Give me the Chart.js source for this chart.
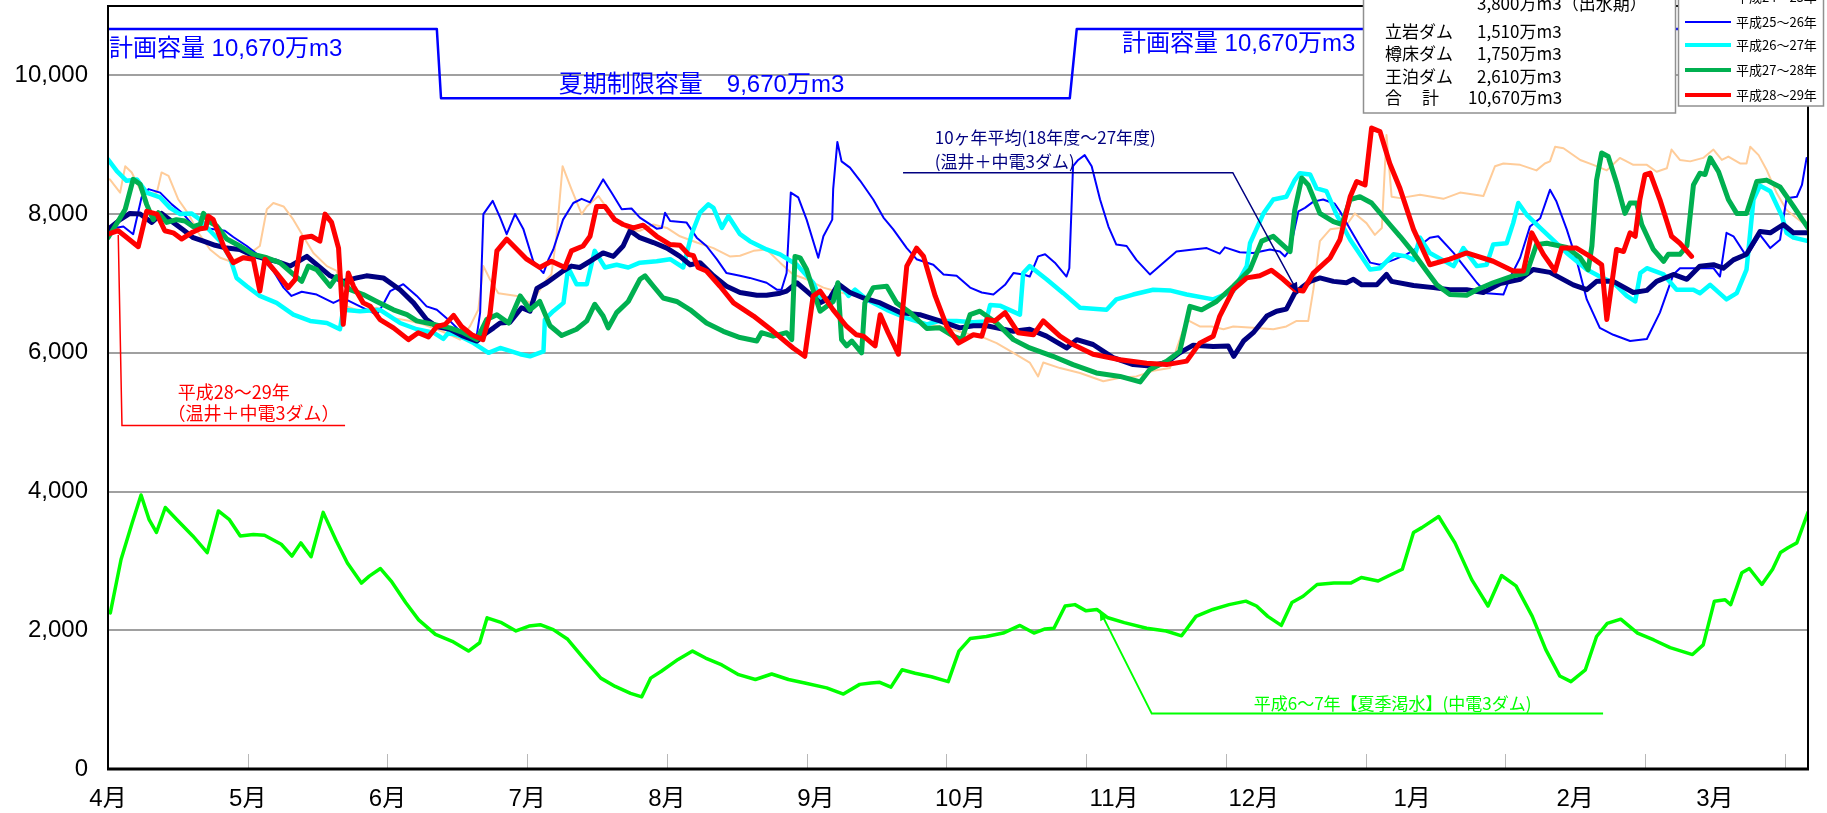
<!DOCTYPE html>
<html>
<head>
<meta charset="utf-8">
<script src="https://cdn.jsdelivr.net/npm/chart.js@4.4.1/dist/chart.umd.min.js"></script>
<style>
  html, body { margin: 0; padding: 0; background: #fff; }
  #wrap { width: 1827px; height: 813px; }
</style>
</head>
<body>
<div id="wrap"><canvas id="damChart" width="1827" height="813"></canvas></div>
<script>
// x = days from 1 April, y = storage (万m3)
const monthDays = [0, 30, 60, 90, 120, 152, 183, 216, 246, 280, 315, 345];
const monthLabels = ["4月", "5月", "6月", "7月", "8月", "9月", "10月", "11月", "12月", "1月", "2月", "3月"];
const tickMarkDays = [30, 60, 90, 120, 150, 180, 210, 240, 270, 300, 330, 360];
const yTicks = [0, 2000, 4000, 6000, 8000, 10000];

// planned capacity / summer limit (step line)
const capacity = [[0,10670],[70.6,10670],[71.5,9670],[206.5,9670],[208,10670],[365,10670]];

// 平成28～29年
const h28 = [[0,7710],[2.2,7760],[3.7,7680],[6.5,7530],[8.3,8040],[10.5,8000],[12.2,7760],[14,7730],[15.8,7640],[17.9,7730],[19.8,7790],[21,7800],[21.5,7970],[22.6,7920],[24.8,7540],[26.9,7300],[29,7370],[31.2,7350],[32.6,6890],[33.7,7350],[36.2,7150],[38.7,6940],[40.2,7060],[41.6,7660],[43.7,7680],[45.5,7610],[46.6,8000],[48,7880],[49.5,7510],[50.5,6410],[51.6,7150],[52.7,6960],[54.8,6720],[56.3,6670],[58.4,6480],[61.3,6360],[64.5,6190],[66.6,6290],[68.8,6230],[70.6,6380],[72.4,6410],[74.2,6540],[75.9,6380],[78.1,6260],[80.5,6190],[82,6550],[83.5,7470],[85.6,7640],[89.9,7350],[92.7,7230],[95.2,7320],[98.1,7230],[99.5,7470],[102,7540],[103.5,7680],[104.9,8110],[106.7,8110],[108.8,7920],[110.6,7850],[112.8,7800],[114.9,7840],[117.8,7680],[120.7,7560],[122.8,7550],[124.6,7420],[125.7,7400],[126.7,7230],[128.5,7180],[131.4,6960],[134.3,6720],[138.6,6530],[142.8,6310],[147.1,6070],[149.6,5950],[151.4,6820],[152.9,6890],[155.7,6620],[158.6,6380],[160.7,6260],[162.2,6240],[164.7,6100],[165.8,6550],[167.5,6290],[169.7,5980],[171.5,7250],[173.6,7510],[175.1,7390],[177.6,6820],[180.1,6380],[182.6,6140],[185.8,6260],[187.6,6240],[188.7,6480],[190.4,6460],[192.6,6580],[195.4,6290],[198.7,6260],[200.8,6460],[204.4,6240],[207.2,6120],[211.5,5980],[217.3,5900],[223,5850],[227.3,5830],[231.6,5880],[234.4,6140],[237.3,6240],[238.7,6530],[241.6,6910],[244.5,7080],[247.3,7110],[249.8,7190],[252.3,7060],[254.8,6910],[256.6,6890],[258.8,7150],[262.4,7370],[264.5,7630],[266.7,8250],[268.1,8470],[269.9,8420],[271.3,9240],[273.1,9190],[275.2,8730],[277.4,8370],[280.3,7780],[283.8,7270],[288.1,7350],[291.7,7440],[297.4,7320],[301.7,7180],[303.9,7180],[305.7,7730],[308.2,7420],[310.7,7180],[312.1,7510],[315.3,7510],[318.2,7390],[320.7,7270],[321.8,6480],[323.9,7490],[325.4,7460],[326.8,7730],[327.9,7680],[328.9,8210],[330,8570],[331.1,8590],[333.2,8210],[335.7,7680],[337.5,7580],[340,7390]];

// 平成27～28年
const h27 = [[0,7660],[2.2,7900],[3.7,8070],[5.4,8500],[6.9,8430],[8.3,8140],[9.7,7920],[10.8,8020],[12.6,7880],[14.7,7920],[16.5,7900],[18.3,7820],[19.8,7850],[20.5,8010],[21.5,7900],[23.3,7830],[25.5,7640],[28.3,7540],[31.2,7420],[34.1,7370],[36.9,7300],[39.8,7130],[41.6,7030],[43,7250],[44.8,7200],[47.7,6960],[49.1,7100],[52,6910],[54.8,6840],[57.7,6740],[61.3,6620],[64.2,6550],[66.3,6460],[69.9,6410],[73.4,6360],[76.3,6290],[79.2,6190],[81.3,6480],[83.5,6550],[86,6430],[88.5,6820],[90.6,6620],[92.7,6740],[94.9,6390],[97.4,6250],[100.6,6340],[102.8,6460],[104.5,6700],[106.3,6530],[107.4,6360],[109.2,6580],[111.7,6740],[114.2,7060],[115.3,7110],[117.1,6960],[119.2,6790],[122.1,6740],[125,6620],[128.5,6430],[132.1,6310],[135.7,6220],[139.3,6170],[140.3,6290],[142.8,6240],[145.7,6290],[146.8,6190],[147.5,7390],[148.6,7370],[150,7200],[151.8,6820],[152.9,6600],[155.7,6740],[156.7,7010],[157.5,6190],[158.6,6100],[159.7,6170],[161.8,6000],[162.5,6720],[164.3,6940],[167.2,6960],[169.3,6720],[172.2,6580],[175.8,6350],[178.6,6360],[181.5,6240],[183.3,6190],[185.1,6550],[187.2,6600],[190.8,6430],[194.4,6190],[197.9,6070],[202.9,5950],[207.2,5830],[212.2,5710],[217.3,5660],[221.6,5580],[223.7,5760],[227.3,5880],[230.1,6020],[232.3,6670],[234.8,6620],[238,6740],[241.6,6960],[245.2,7200],[247.7,7610],[250.2,7680],[253.8,7460],[254.8,8060],[256.3,8520],[257.7,8420],[260.2,8010],[263.1,7890],[264.9,7850],[266.7,8210],[268.8,8250],[271.3,8160],[275.2,7850],[277.4,7680],[280.3,7440],[283.1,7180],[285.3,6980],[288.1,6840],[291.7,6830],[293.9,6910],[297.4,7010],[301.7,7110],[304.6,7150],[306.7,7560],[308.9,7580],[313.2,7520],[316.1,7370],[317.8,7200],[318.6,7540],[319.6,8490],[320.7,8880],[322.1,8830],[323.9,8450],[325.7,8010],[326.8,8160],[328.2,8160],[329.3,7850],[331.8,7490],[334,7320],[335,7420],[337.5,7420],[339,7540],[340.4,8420],[341.8,8590],[342.9,8570],[344,8810],[345.8,8610],[347.9,8210],[349.7,8010],[351.8,8010],[354,8470],[356.1,8490],[359,8390],[361.9,8110],[365,7800]];

// 10ヶ年平均（18年度～27年度）
const avg10 = [[0,7780],[2.6,7920],[4.7,8010],[6.9,8000],[9.4,7880],[11.5,8010],[14,7880],[16.2,7770],[18.3,7660],[20.5,7610],[23,7550],[25.5,7510],[28.3,7490],[30.5,7420],[33.4,7360],[36.2,7320],[39.1,7250],[42.7,7390],[47.7,7110],[50.5,7030],[53.4,7080],[55.5,7110],[59.1,7080],[62.7,6910],[65.6,6720],[68.4,6480],[70.6,6380],[73.4,6340],[76.3,6240],[79.2,6170],[81.3,6290],[82.8,6360],[84.2,6430],[86.3,6440],[88.8,6650],[90.6,6600],[92.1,6930],[94.2,7010],[97.7,7180],[99.5,7250],[101.3,7230],[103.5,7320],[106.3,7440],[108.5,7390],[110.6,7540],[112.1,7760],[114.2,7660],[117.1,7590],[120,7510],[122.8,7390],[125,7270],[127.1,7300],[130,7110],[132.8,6960],[135.7,6870],[139.3,6830],[141.4,6830],[144.3,6860],[145.7,6890],[147.9,7010],[150,6890],[152.9,6720],[155,6790],[156.8,6990],[159.3,6870],[162.2,6790],[165.8,6720],[170.1,6580],[174.3,6550],[178.6,6460],[182.9,6360],[185.8,6390],[188.7,6390],[190.8,6360],[194.4,6310],[197.9,6340],[201.5,6240],[205.8,6070],[208,6190],[211.5,6120],[215.8,5930],[220.1,5830],[223.7,5810],[227.3,5860],[230.1,6000],[233,6110],[237.3,6090],[240.5,6100],[241.7,5950],[243.8,6170],[245.9,6290],[248.8,6530],[250.9,6600],[253,6630],[254.8,6860],[256.3,6940],[258.1,7030],[260.2,7080],[263.1,7030],[265.9,7010],[267.4,7060],[269.2,6980],[272.4,6980],[274.5,7130],[275.6,7030],[280.3,6970],[284.6,6940],[288.1,6910],[291.7,6910],[295.3,6870],[298.9,7000],[303.2,7060],[306,7200],[309.6,7160],[314.6,6980],[317.5,6910],[319.6,7030],[323.2,7030],[327.5,6870],[330.4,6900],[332.5,7030],[336.1,7130],[339,7060],[341.8,7250],[344.7,7270],[346.8,7220],[349,7340],[351.8,7420],[354.7,7750],[356.9,7730],[359.7,7850],[361.9,7730],[365,7730]];

// 平成26～27年
const h26 = [[0,8790],[1.9,8620],[4,8480],[6.2,8500],[8.3,8310],[11.2,8240],[13.3,8090],[15.5,8000],[17.9,8010],[19.8,7920],[21.9,7760],[24.1,7610],[26.2,7370],[27.6,7080],[29.8,6960],[32.6,6820],[36.2,6720],[39.8,6550],[43.4,6460],[47,6430],[49.8,6340],[50.5,6620],[54.1,6600],[58.4,6620],[62.7,6430],[66.3,6340],[69.9,6290],[72,6200],[73.1,6290],[75.6,6240],[78.5,6140],[81.7,6000],[84.2,6070],[88.5,5980],[90.6,5950],[93.5,6020],[93.8,6480],[95.6,6600],[97.8,6720],[98.8,7230],[100.6,6990],[102.8,6990],[104.5,7470],[106.7,7230],[109.2,7270],[111.7,7230],[114.2,7300],[117.8,7320],[120.7,7350],[123.5,7230],[125.3,7710],[127.1,8020],[128.9,8140],[130,8090],[131.8,7800],[133.2,7970],[135.7,7710],[137.8,7610],[141.4,7490],[144.3,7420],[147.9,7270],[151.4,7010],[152.9,6790],[155.7,6740],[157.5,6960],[159,6820],[160.4,6910],[162.9,6770],[167.2,6620],[171.5,6500],[175.8,6410],[178.6,6460],[182.2,6460],[185.8,6440],[188.5,6450],[189.4,6690],[191.5,6680],[195.8,6550],[196.5,7150],[197.9,7250],[201.5,7060],[205.1,6860],[208.7,6650],[214.4,6620],[216.5,6770],[220.1,6840],[224.4,6910],[228,6900],[231.6,6840],[237.3,6770],[241.6,6890],[244.5,7250],[245.2,7580],[248.1,8010],[250.2,8210],[253,8250],[254.8,8490],[255.9,8590],[258.1,8570],[259.5,8370],[261.6,8330],[263.8,7990],[266.7,7630],[268.8,7420],[271,7200],[273.1,7220],[276,7420],[278.8,7390],[280.3,7340],[281.7,7660],[283.8,7440],[288.9,7250],[291,7510],[293.9,7250],[296,7270],[297.4,7560],[300.3,7580],[301.7,7870],[302.8,8160],[304.6,7990],[307.5,7800],[313.2,7440],[317.5,7200],[320.3,7100],[323.2,7010],[326.1,6820],[327.9,6740],[329,7150],[330.4,7220],[334,7130],[336.8,6910],[340.4,6910],[341.8,6860],[344,6980],[347.5,6770],[349.7,6860],[351.8,7200],[353.3,8210],[354.7,8410],[356.9,8330],[359.4,7970],[360.4,7730],[361.9,7660],[365,7610]];

// 平成25～26年
const h25 = [[0,7780],[3.3,7820],[5.4,7710],[7.2,8240],[8.7,8360],[11.2,8310],[13.7,8140],[16.2,8000],[19,7780],[21.9,7790],[25.1,7760],[26.9,7670],[29.8,7540],[32.6,7390],[35.5,7180],[37.7,6940],[39.4,6820],[41.6,6880],[44.8,6840],[48.4,6720],[50.5,6790],[54.1,6670],[57.7,6550],[59.1,6700],[60.6,6890],[63.4,6990],[66.3,6820],[68.4,6670],[70.6,6620],[73.4,6460],[75.6,6310],[77.7,6240],[79.2,6260],[79.9,6580],[80.6,8000],[82.6,8190],[84.2,7950],[85.6,7710],[87.4,8000],[89.2,7780],[91.3,7320],[93.5,7150],[94.6,7350],[95.6,7490],[97.7,7920],[99.9,8160],[101.7,8220],[103.5,8170],[106.3,8500],[108.1,8310],[110.3,8070],[112.4,8080],[114.2,7950],[117.8,7790],[118.9,7800],[119.6,8020],[120.7,7900],[124.2,7880],[126.4,7660],[128.5,7540],[130.7,7350],[132.8,7150],[135.7,7110],[137.8,7080],[141.4,7010],[143.6,6910],[144.6,6910],[145.7,7150],[146.6,8310],[148.2,8240],[150,7920],[152.5,7370],[153.6,7680],[155.5,7920],[155.7,8360],[156.6,9040],[157.5,8760],[159.3,8670],[161.5,8480],[164.3,8210],[166.5,7950],[168.6,7780],[171.5,7510],[173.6,7350],[177.2,7270],[179.4,7130],[182.2,7110],[185.1,6940],[187.6,6870],[190.1,6840],[192.6,6980],[194.4,7150],[196.5,7130],[197.9,7100],[199.7,7390],[201.2,7420],[203.3,7300],[205.8,7100],[206.4,7220],[207.2,8690],[208.3,8780],[209.7,8850],[211.2,8690],[213,8210],[214.8,7820],[216.5,7560],[218.7,7540],[220.8,7340],[223.7,7130],[226.6,7300],[229.4,7460],[233,7490],[235.9,7510],[238.7,7430],[239.8,7520],[243,7450],[245.9,7440],[249.5,7490],[251.6,7460],[252.7,7390],[253.8,7490],[255.6,8040],[257,8090],[258.8,8180],[260.9,8210],[263.4,8150],[264.5,8040],[266.7,7780],[268.8,7540],[271,7300],[273.1,7270],[276,7340],[278.8,7420],[281,7510],[283.8,7660],[285.6,7680],[288.9,7440],[291.7,7200],[293.9,7010],[296,6860],[299.6,6840],[301,7080],[303.2,7370],[305.3,7820],[307.5,7940],[309.6,8350],[311,8180],[313.2,7780],[315.3,7340],[317.5,6770],[320.3,6360],[323.2,6260],[326.8,6170],[330.4,6200],[333.2,6580],[336.1,7130],[337.5,7220],[341.8,7220],[344.7,7220],[346.1,7100],[347.5,7730],[349,7680],[351.8,7390],[354.7,7700],[356.9,7510],[359,7630],[360.4,8230],[362.6,8250],[363.7,8420],[364.7,8810]];

// 平成24～25年
const h24 = [[0.4,8500],[2.6,8310],[3.7,8690],[5.1,8600],[7.2,8310],[9,8280],[10.5,8310],[11.5,8600],[13,8550],[15.1,8210],[17.3,8000],[19.4,7730],[21.9,7490],[24.1,7370],[26.2,7320],[29.1,7390],[31.2,7470],[32.6,7540],[34.1,8070],[35.5,8160],[37.7,8110],[39.8,7920],[41.9,7680],[44.1,7440],[47,7250],[49.1,7180],[51.3,6670],[54.1,6600],[57.7,6650],[61.3,6500],[64.9,6460],[67.7,6410],[70.6,6340],[73.4,6260],[75.6,6190],[77.7,6380],[79.5,6620],[80.6,7250],[82,7060],[83.8,6860],[87.8,6820],[90.6,6720],[92.1,6840],[94.2,7060],[95.2,7130],[96.3,7680],[97.6,8690],[99.5,8360],[101.7,8000],[102.8,8110],[105.3,8260],[107.1,8090],[109.2,7920],[112.1,7760],[114.2,7760],[117.1,7850],[120,7800],[122.8,7680],[126.4,7590],[130,7510],[133.5,7390],[135.7,7400],[138.6,7470],[141.4,7490],[144.3,7300],[147.1,7130],[150,7060],[153.6,6940],[157.2,6870],[160.7,6820],[164.3,6770],[167.2,6650],[170.1,6580],[172.9,6480],[176.5,6410],[180.1,6360],[183.6,6290],[188,6220],[190.8,6140],[194.4,6000],[197.9,5860],[199.7,5660],[200.8,5860],[204.4,5780],[208.7,5710],[213.7,5590],[217.3,5640],[220.8,5660],[224.4,5740],[228,5780],[231.6,6480],[234.4,6380],[237,6380],[239.5,6340],[241.6,6380],[245.9,6360],[250.2,6340],[253,6380],[255.2,6460],[257.7,6460],[258.8,6910],[260.2,7610],[262.4,7780],[264.5,7800],[266,7850],[267.7,8010],[270.2,7870],[272,7700],[273.5,7800],[274.5,9140],[275.6,8250],[277.4,8230],[281.7,8280],[286.7,8220],[290.3,8310],[295.3,8260],[297.8,8690],[299.6,8730],[303.2,8710],[306.7,8630],[308.5,8730],[309.6,8760],[310.7,8970],[312.5,8950],[316.1,8780],[318.9,8710],[321.8,8630],[324.6,8810],[327.5,8710],[330.4,8710],[332.5,8610],[334.7,8660],[335.7,8930],[337.5,8780],[339.7,8760],[342.5,8810],[344.7,8930],[346.5,8780],[347.9,8830],[350.4,8730],[351.8,8730],[352.6,8970],[354.4,8850],[356.1,8640],[358.3,8300],[360.4,8060],[362.6,7940],[365,7820]];

// 平成6～7年【夏季渇水】(中電3ダム)
const h6 = [[0.5,2250],[2.8,3020],[5.2,3550],[7.1,3950],[8.8,3600],[10.4,3410],[12.3,3770],[14.7,3600],[18.2,3360],[21.3,3120],[23.7,3720],[26,3600],[28.4,3360],[31.2,3380],[33.6,3370],[37.2,3240],[39.5,3070],[41.4,3260],[43.6,3060],[46.2,3700],[49,3290],[51.4,2970],[54.4,2680],[56.1,2780],[58.5,2890],[60.8,2710],[63.9,2400],[66.7,2150],[70.3,1940],[73.9,1840],[77.4,1700],[79.8,1820],[81.4,2180],[84.5,2110],[87.6,1990],[90.4,2060],[92.8,2080],[95.6,2010],[98.7,1870],[102.3,1580],[105.8,1310],[108.9,1190],[112.2,1090],[114.6,1040],[116.5,1310],[118.8,1410],[122.4,1580],[125.5,1700],[128.3,1600],[131.8,1500],[135.4,1360],[139,1290],[142.5,1370],[146.1,1290],[149.6,1240],[154.3,1170],[157.9,1080],[161.4,1220],[163.8,1240],[165.7,1250],[168.1,1180],[170.5,1430],[173.3,1380],[176.8,1330],[180.4,1260],[182.7,1700],[185.1,1880],[188.6,1910],[192.2,1960],[195.8,2070],[198.8,1960],[201.2,2020],[203.1,2030],[205.5,2350],[207.6,2370],[210,2280],[212.3,2300],[214.7,2180],[218.2,2110],[223,2030],[227.2,1990],[230.5,1920],[233.6,2200],[237.2,2300],[240.7,2370],[244.3,2420],[246.6,2350],[249,2200],[251.9,2070],[254.2,2400],[256.6,2490],[259.6,2660],[263.2,2680],[266.8,2680],[269.1,2760],[272.7,2710],[275.1,2790],[277.9,2880],[280.3,3410],[282.1,3480],[285.7,3640],[289.2,3260],[292.8,2730],[296.3,2350],[299.2,2790],[302.3,2640],[305.8,2200],[308.7,1720],[311.7,1340],[314.1,1260],[317.2,1430],[319.6,1910],[321.9,2100],[324.8,2160],[328.4,1960],[331.9,1860],[335.4,1750],[337.8,1700],[340.2,1650],[342.5,1790],[344.9,2420],[347.2,2440],[348.4,2370],[350.8,2830],[352.4,2890],[355.1,2660],[357.4,2880],[359.1,3120],[360.7,3190],[362.6,3260],[365,3700]];

const toXY = pts => pts.map(([x, y]) => ({ x, y }));
const CJK = '"Noto Sans CJK JP", sans-serif';
const MIX = '"Liberation Sans", "Noto Sans CJK JP", sans-serif';

const overlay = {
  id: 'overlay',
  afterDatasetsDraw(chart) {
    const { ctx, chartArea: a, scales: { x, y } } = chart;
    const px = d => x.getPixelForValue(d);
    const py = v => y.getPixelForValue(v);
    ctx.save();

    // short tick marks every 30 days, inside the plot
    ctx.strokeStyle = '#b8b8b8';
    ctx.lineWidth = 1;
    tickMarkDays.forEach(d => {
      const X = Math.round(px(d)) + 0.5;
      ctx.beginPath(); ctx.moveTo(X, a.bottom); ctx.lineTo(X, a.bottom - 15); ctx.stroke();
    });

    // frame
    ctx.strokeStyle = '#000';
    ctx.lineWidth = 2;
    ctx.strokeRect(a.left, a.top, a.right - a.left, a.bottom - a.top);
    ctx.lineWidth = 3;
    ctx.beginPath(); ctx.moveTo(a.left - 1, a.bottom); ctx.lineTo(a.right + 1, a.bottom); ctx.stroke();

    const text = (s, d, v, color, size, font) => {
      ctx.fillStyle = color;
      ctx.font = size + 'px ' + (font || CJK);
      ctx.textAlign = 'left';
      ctx.textBaseline = 'middle';
      ctx.fillText(s, px(d), py(v));
    };
    const poly = (pts, color, w) => {
      ctx.strokeStyle = color; ctx.lineWidth = w;
      ctx.beginPath();
      pts.forEach(([d, v], i) => i ? ctx.lineTo(px(d), py(v)) : ctx.moveTo(px(d), py(v)));
      ctx.stroke();
    };
    const arrow = (from, to, color) => {
      const x1 = px(from[0]), y1 = py(from[1]), x2 = px(to[0]), y2 = py(to[1]);
      const ang = Math.atan2(y2 - y1, x2 - x1);
      ctx.fillStyle = color;
      ctx.beginPath();
      ctx.moveTo(x2, y2);
      ctx.lineTo(x2 - 11 * Math.cos(ang - 0.4), y2 - 11 * Math.sin(ang - 0.4));
      ctx.lineTo(x2 - 11 * Math.cos(ang + 0.4), y2 - 11 * Math.sin(ang + 0.4));
      ctx.closePath(); ctx.fill();
    };

    // capacity notes
    text('計画容量 10,670万m3', 0.2, 10370, '#0000ff', 24, MIX);
    text('夏期制限容量　9,670万m3', 96.8, 9860, '#0000ff', 24, MIX);
    text('計画容量 10,670万m3', 217.7, 10450, '#0000ff', 24, MIX);

    // 10-year average note
    text('10ヶ年平均(18年度～27年度)', 177.5, 9110, '#000080', 17);
    text('(温井＋中電3ダム)', 177.5, 8760, '#000080', 17);
    poly([[170.7, 8596], [241.5, 8596], [255.5, 6868]], '#000080', 1.5);
    arrow([241.5, 8596], [255.5, 6868], '#000080');

    // H28-29 note
    text('平成28～29年', 15, 5430, '#ff0000', 18);
    text('（温井＋中電3ダム）', 12.8, 5125, '#ff0000', 18);
    poly([[2.2, 7700], [3.0, 4953], [50.9, 4953]], '#ff0000', 1.5);

    // H6-7 note
    text('平成6～7年【夏季渇水】(中電3ダム)', 246, 950, '#00ff00', 17);
    poly([[212.9, 2290], [224.1, 799], [321, 799]], '#00ff00', 2);
    arrow([224.1, 799], [212.9, 2290], '#00ff00');

    // capacity breakdown box
    ctx.fillStyle = '#fff';
    ctx.fillRect(1363, -10, 312, 123);
    ctx.strokeStyle = '#909090'; ctx.lineWidth = 1.5;
    ctx.strokeRect(1363.5, -10, 312, 123);
    ctx.fillStyle = '#000';
    ctx.font = '17px ' + CJK;
    ctx.textAlign = 'left'; ctx.textBaseline = 'middle';
    ctx.fillText('3,800万m3（出水期）', 1477, 4);
    [['立岩ダム', '1,510万m3', 32], ['樽床ダム', '1,750万m3', 54], ['王泊ダム', '2,610万m3', 77]].forEach(([n, v, yy]) => {
      ctx.fillText(n, 1385, yy); ctx.fillText(v, 1477, yy);
    });
    ctx.fillText('合', 1385, 98); ctx.fillText('計', 1422, 98); ctx.fillText('10,670万m3', 1468, 98);

    // series legend box
    ctx.fillStyle = '#fff';
    ctx.fillRect(1678, -10, 145, 116);
    ctx.strokeStyle = '#909090'; ctx.lineWidth = 1.5;
    ctx.strokeRect(1678.5, -10, 145, 116);
    const legend = [['平成24～25年', '#ffcc99', 2, -3], ['平成25～26年', '#0000ff', 2, 22], ['平成26～27年', '#00ffff', 4, 45], ['平成27～28年', '#00b050', 4, 70], ['平成28～29年', '#ff0000', 4, 95]];
    ctx.font = '13px ' + CJK;
    legend.forEach(([label, color, w, yy]) => {
      ctx.strokeStyle = color; ctx.lineWidth = w;
      ctx.beginPath(); ctx.moveTo(1685, yy); ctx.lineTo(1731, yy); ctx.stroke();
      ctx.fillStyle = '#000';
      ctx.fillText(label, 1736, yy);
    });
    ctx.restore();
  }
};

const line = (data, color, width) => ({
  data: toXY(data), borderColor: color, borderWidth: width,
  pointRadius: 0, tension: 0, fill: false,
  borderJoinStyle: 'round', borderCapStyle: 'round'
});

new Chart(document.getElementById('damChart'), {
  type: 'line',
  data: {
    datasets: [
      line(h28, '#ff0000', 5),
      line(h27, '#00b050', 5),
      line(avg10, '#000080', 5),
      line(h26, '#00ffff', 4.5),
      line(h25, '#0000ff', 2),
      line(h24, '#ffcc99', 2),
      line(h6, '#00ff00', 3.5),
      line(capacity, '#0000ff', 2.5)
    ]
  },
  options: {
    responsive: false,
    animation: false,
    devicePixelRatio: 1,
    layout: { padding: { left: 0, right: 19, top: 6, bottom: 0 } },
    plugins: { legend: { display: false }, tooltip: { enabled: false } },
    scales: {
      x: {
        type: 'linear', min: 0, max: 365,
        afterBuildTicks: s => { s.ticks = monthDays.map(v => ({ value: v })); },
        afterFit: s => { s.height = 44; s.paddingLeft = 0; s.paddingRight = 0; },
        grid: { display: false, drawTicks: false },
        border: { display: false },
        ticks: {
          autoSkip: false, maxRotation: 0, padding: 16, color: '#000',
          font: { family: MIX, size: 24 },
          callback: v => monthLabels[monthDays.indexOf(v)]
        }
      },
      y: {
        min: 0, max: 11000,
        afterBuildTicks: s => { s.ticks = yTicks.map(v => ({ value: v })); },
        afterFit: s => { s.width = 108; s.paddingTop = 0; s.paddingBottom = 0; },
        grid: { color: c => c.tick && c.tick.value === 0 ? 'rgba(0,0,0,0)' : '#a0a0a0', lineWidth: 2, drawTicks: false },
        border: { display: false },
        ticks: {
          padding: 20, color: '#000',
          font: { family: MIX, size: 24 },
          callback: v => v.toLocaleString('en-US')
        }
      }
    }
  },
  plugins: [overlay]
});
</script>
</body>
</html>
